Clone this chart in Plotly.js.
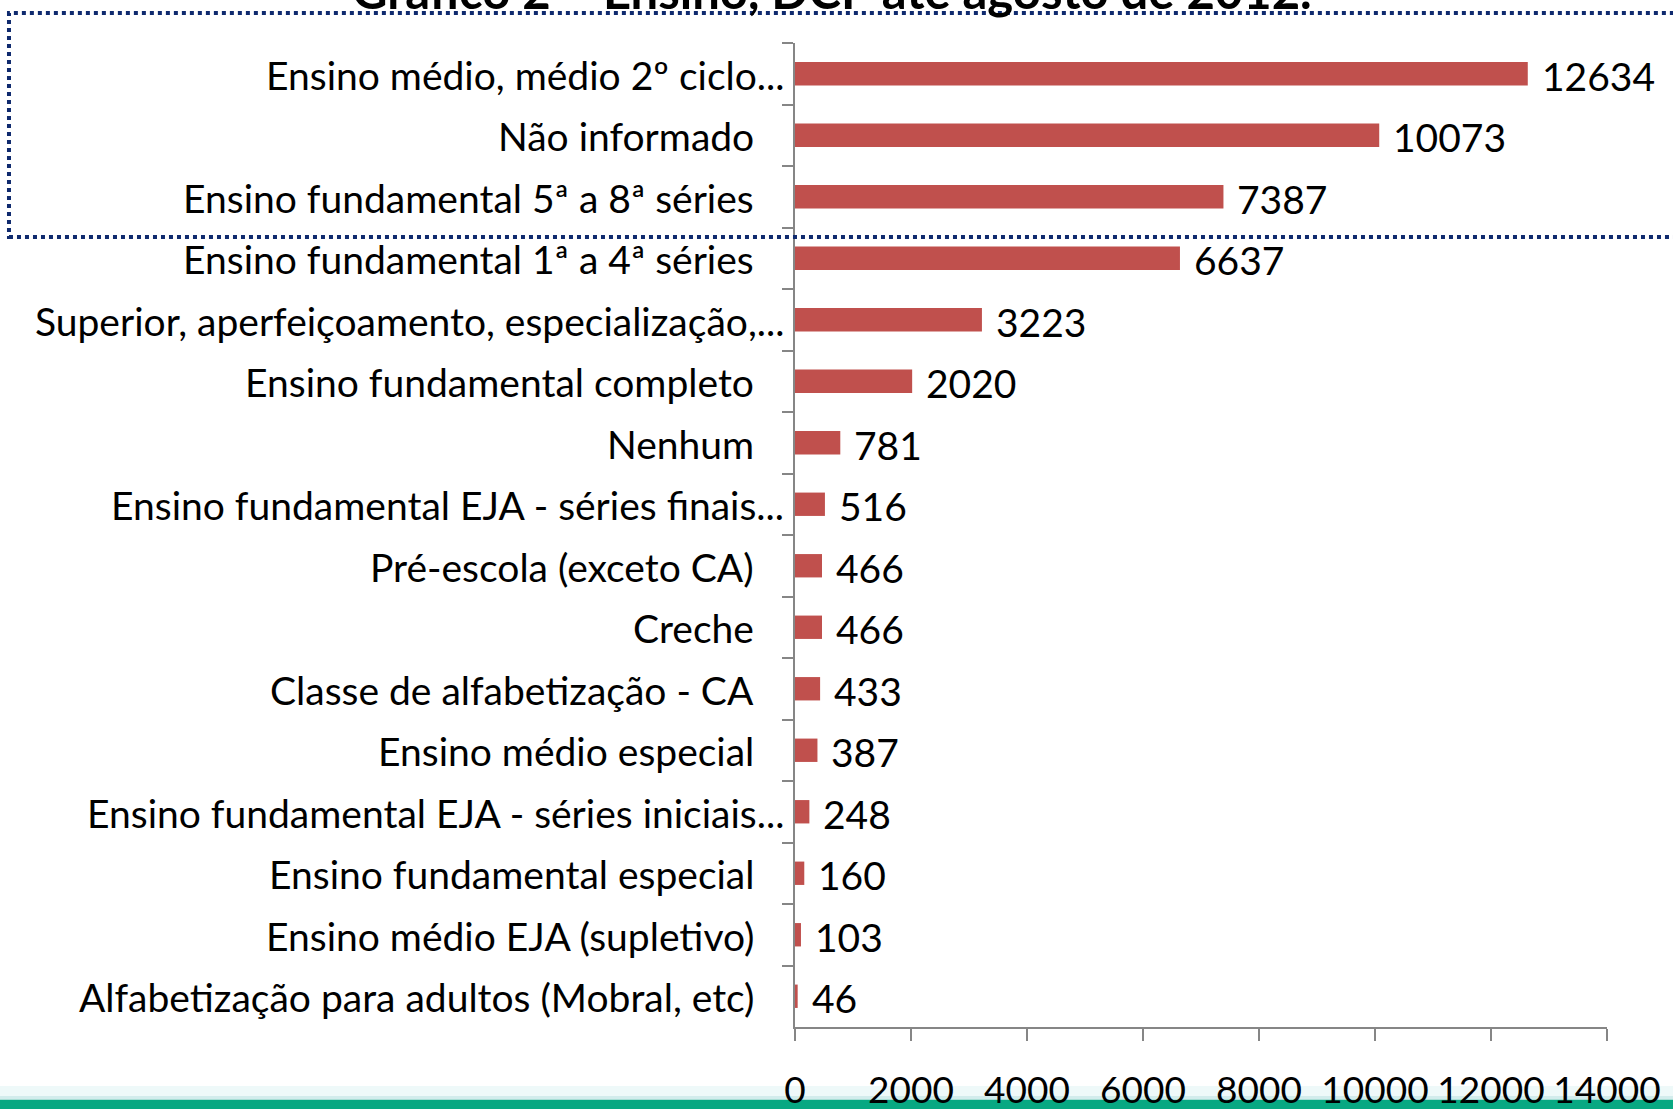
<!DOCTYPE html>
<html>
<head>
<meta charset="utf-8">
<script src="https://cdn.plot.ly/plotly-3.0.1.min.js"></script>
<style>
  html, body { margin: 0; padding: 0; background: #fff; }
  #chart { width: 1673px; height: 1109px; }
</style>
</head>
<body>
<div id="chart"></div>
<script>
var categories = [
    'Ensino médio, médio 2º ciclo...',
    'Não informado',
    'Ensino fundamental 5ª a 8ª séries',
    'Ensino fundamental 1ª a 4ª séries',
    'Superior, aperfeiçoamento, especialização,...',
    'Ensino fundamental completo',
    'Nenhum',
    'Ensino fundamental EJA - séries finais...',
    'Pré-escola (exceto CA)',
    'Creche',
    'Classe de alfabetização - CA',
    'Ensino médio especial',
    'Ensino fundamental EJA - séries iniciais...',
    'Ensino fundamental especial',
    'Ensino médio EJA (supletivo)',
    'Alfabetização para adultos (Mobral, etc)'
];
var values = [12634, 10073, 7387, 6637, 3223, 2020, 781, 516, 466, 466, 433, 387, 248, 160, 103, 46];
var xTicks = [0, 2000, 4000, 6000, 8000, 10000, 12000, 14000];
var titleText = 'Gráfico 2 – Ensino, DCP até agosto de 2012.';

var font = 'Lato, "Open Sans", sans-serif';
var fontSize = 39;

var trace = {
    type: 'bar',
    orientation: 'h',
    x: values,
    y: categories,
    marker: { color: '#C0504D' },
    hoverinfo: 'x+y'
};

var annotations = [];
// value labels right of each bar
for (var i = 0; i < values.length; i++) {
    annotations.push({
        x: values[i], y: categories[i], xref: 'x', yref: 'y',
        text: String(values[i]), showarrow: false,
        xanchor: 'left', yanchor: 'middle', xshift: 12, yshift: -2,
        font: { family: font, size: fontSize, color: '#000' }
    });
}
// category labels (truncated ones sit closer to the axis, like Excel does)
for (var j = 0; j < categories.length; j++) {
    var cut = categories[j].slice(-3) === '...';
    annotations.push({
        x: 0, y: categories[j], xref: 'x', yref: 'y',
        text: categories[j], showarrow: false,
        xanchor: 'right', yanchor: 'middle', xshift: cut ? -9 : -39, yshift: -1,
        font: { family: font, size: fontSize, color: '#000' }
    });
}
// cut-off title at the top of the slide
annotations.push({
    x: 0.046, y: 1, xref: 'paper', yref: 'paper',
    text: '<b>' + titleText + '</b>', showarrow: false,
    xanchor: 'center', yanchor: 'bottom', yshift: 22,
    font: { family: font, size: 49, color: '#000' }
});

var shapes = [
    // dotted highlight box round the first three rows
    {
        type: 'rect', xref: 'paper', yref: 'paper',
        x0: -0.968, x1: 1.2, y0: 0.8028, y1: 1.0305,
        line: { color: '#0F2A6E', width: 4, dash: 'dot' },
        fillcolor: 'rgba(0,0,0,0)'
    },
    // green band at the foot of the slide
    {
        type: 'rect', xref: 'paper', yref: 'paper',
        x0: -1.2, x1: 1.2, y0: -0.0700, y1: -0.0600,
        line: { width: 0 }, fillcolor: '#EEF9F9', layer: 'below'
    },
    {
        type: 'rect', xref: 'paper', yref: 'paper',
        x0: -1.2, x1: 1.2, y0: -0.0740, y1: -0.0700,
        line: { width: 0 }, fillcolor: '#D2ECEC', layer: 'below'
    },
    {
        type: 'rect', xref: 'paper', yref: 'paper',
        x0: -1.2, x1: 1.2, y0: -0.0850, y1: -0.0740,
        line: { width: 0 }, fillcolor: '#08A882', layer: 'below'
    }
];

var layout = {
    width: 1673,
    height: 1109,
    margin: { l: 795, r: 66, t: 43, b: 82 },
    paper_bgcolor: '#fff',
    plot_bgcolor: '#fff',
    showlegend: false,
    bargap: 0.62,
    font: { family: font, size: fontSize, color: '#000' },
    xaxis: {
        range: [0, 14000],
        tickvals: xTicks,
        ticktext: xTicks.map(String),
        showgrid: false,
        zeroline: false,
        showline: true,
        linecolor: '#868686',
        linewidth: 2,
        ticks: 'outside',
        ticklen: 12,
        tickwidth: 2,
        tickcolor: '#868686',
        ticklabelstandoff: 18,
        tickfont: { family: font, size: 37, color: '#000' },
        fixedrange: true
    },
    yaxis: {
        type: 'category',
        autorange: 'reversed',
        showgrid: false,
        zeroline: false,
        showline: true,
        linecolor: '#868686',
        linewidth: 2,
        ticks: 'outside',
        tickson: 'boundaries',
        ticklen: 11,
        tickwidth: 2,
        tickcolor: '#868686',
        showticklabels: false,
        fixedrange: true
    },
    annotations: annotations,
    shapes: shapes
};

Plotly.newPlot('chart', [trace], layout, { displayModeBar: false, staticPlot: true });
</script>
</body>
</html>
